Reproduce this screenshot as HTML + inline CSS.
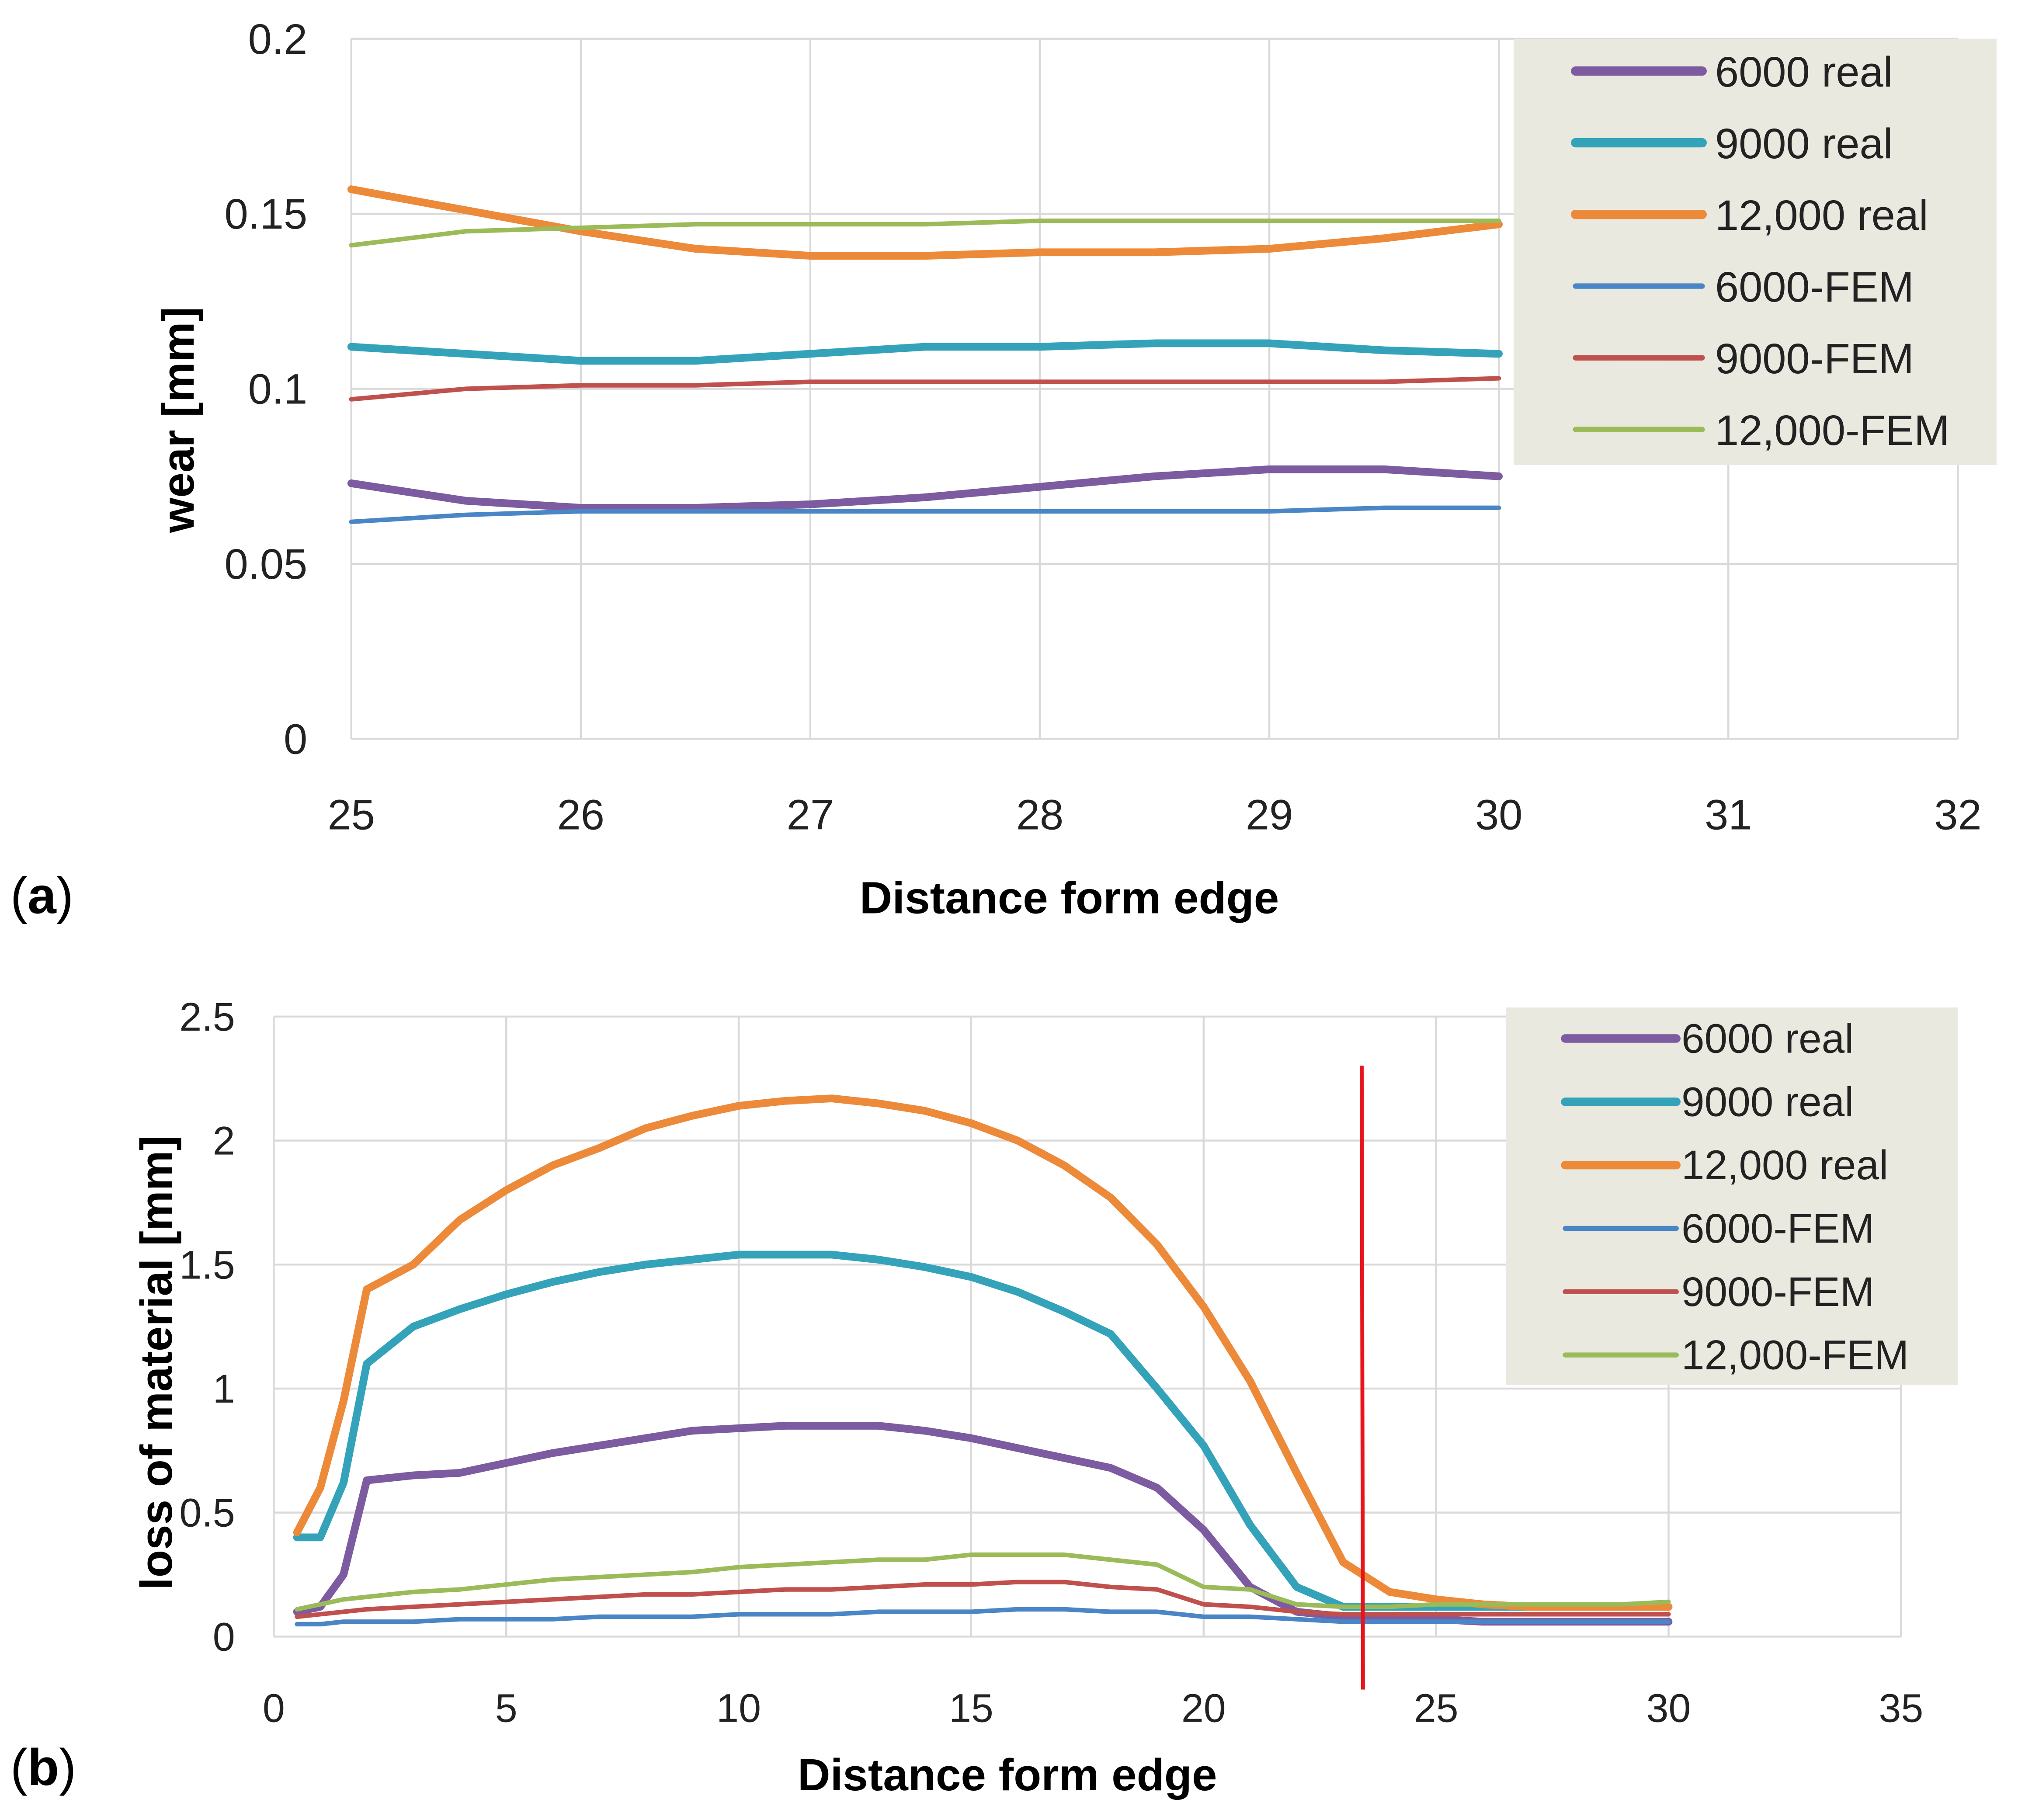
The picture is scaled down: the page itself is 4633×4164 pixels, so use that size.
<!DOCTYPE html>
<html><head><meta charset="utf-8"><style>
html,body{margin:0;padding:0;background:#fff}
svg{display:block}
text{font-family:"Liberation Sans",sans-serif}
</style></head><body>
<svg id="fig" width="4633" height="4164" viewBox="0 0 1568 1409" preserveAspectRatio="none" xmlns="http://www.w3.org/2000/svg">
<g id="ca"></g>
<g id="cb"></g>
<text x="8" y="707" font-family="Liberation Serif" font-size="40">(<tspan font-weight="bold">a</tspan>)</text>
<text x="8" y="1382" font-family="Liberation Serif" font-size="40">(<tspan font-weight="bold">b</tspan>)</text>
</svg>
<script>
const seriesNames=["6000 real","9000 real","12,000 real","6000-FEM","9000-FEM","12,000-FEM"];
const seriesColors=["#7d5ba0","#34a3ba","#ec8a3a","#4a86c6","#c0504d","#9bbb59"];
const seriesWidths=[6,6,6,3.5,3.5,3.5];
// chart a
const aX=[25,25.5,26,26.5,27,27.5,28,28.5,29,29.5,30];
const a6000real=[0.073,0.068,0.066,0.066,0.067,0.069,0.072,0.075,0.077,0.077,0.075];
const a9000real=[0.112,0.110,0.108,0.108,0.110,0.112,0.112,0.113,0.113,0.111,0.110];
const a12000real=[0.157,0.151,0.145,0.140,0.138,0.138,0.139,0.139,0.140,0.143,0.147];
const a6000fem=[0.062,0.064,0.065,0.065,0.065,0.065,0.065,0.065,0.065,0.066,0.066];
const a9000fem=[0.097,0.100,0.101,0.101,0.102,0.102,0.102,0.102,0.102,0.102,0.103];
const a12000fem=[0.141,0.145,0.146,0.147,0.147,0.147,0.148,0.148,0.148,0.148,0.148];
const aXTicks=[25,26,27,28,29,30,31,32];
const aYTicks=[0,0.05,0.1,0.15,0.2];
const aYLabels=["0","0.05","0.1","0.15","0.2"];
// chart b
const bX=[0.5,1,1.5,2,3,4,5,6,7,8,9,10,11,12,13,14,15,16,17,18,19,20,21,22,23,24,25,26,27,28,29,30];
const b6000real=[0.1,0.12,0.25,0.63,0.65,0.66,0.7,0.74,0.77,0.8,0.83,0.84,0.85,0.85,0.85,0.83,0.8,0.76,0.72,0.68,0.6,0.43,0.2,0.1,0.08,0.07,0.07,0.06,0.06,0.06,0.06,0.06];
const b9000real=[0.4,0.4,0.62,1.1,1.25,1.32,1.38,1.43,1.47,1.5,1.52,1.54,1.54,1.54,1.52,1.49,1.45,1.39,1.31,1.22,1.0,0.77,0.45,0.2,0.12,0.12,0.12,0.12,0.12,0.12,0.12,0.12];
const b12000real=[0.42,0.6,0.95,1.4,1.5,1.68,1.8,1.9,1.97,2.05,2.1,2.14,2.16,2.17,2.15,2.12,2.07,2.0,1.9,1.77,1.58,1.33,1.03,0.66,0.3,0.18,0.15,0.13,0.12,0.12,0.12,0.12];
const b6000fem=[0.05,0.05,0.06,0.06,0.06,0.07,0.07,0.07,0.08,0.08,0.08,0.09,0.09,0.09,0.1,0.1,0.1,0.11,0.11,0.1,0.1,0.08,0.08,0.07,0.06,0.06,0.06,0.06,0.06,0.06,0.06,0.06];
const b9000fem=[0.08,0.09,0.1,0.11,0.12,0.13,0.14,0.15,0.16,0.17,0.17,0.18,0.19,0.19,0.2,0.21,0.21,0.22,0.22,0.2,0.19,0.13,0.12,0.1,0.09,0.09,0.09,0.09,0.09,0.09,0.09,0.09];
const b12000fem=[0.11,0.13,0.15,0.16,0.18,0.19,0.21,0.23,0.24,0.25,0.26,0.28,0.29,0.3,0.31,0.31,0.33,0.33,0.33,0.31,0.29,0.2,0.19,0.13,0.12,0.12,0.13,0.13,0.13,0.13,0.13,0.14];
const bXTicks=[0,5,10,15,20,25,30,35];
const bYTicks=[0,0.5,1,1.5,2,2.5];
const bYLabels=["0","0.5","1","1.5","2","2.5"];
const bCutoff=[23.4];

const NS="http://www.w3.org/2000/svg";
function mk(parent,tag,attrs,txt){const e=document.createElementNS(NS,tag);for(const k in attrs)e.setAttribute(k,attrs[k]);if(txt!==undefined)e.textContent=txt;parent.appendChild(e);return e;}

function chart(g,cfg){
  const sx=v=>cfg.x0+(v-cfg.xmin)/(cfg.xmax-cfg.xmin)*(cfg.x1-cfg.x0);
  const sy=v=>cfg.y0-(v-cfg.ymin)/(cfg.ymax-cfg.ymin)*(cfg.y0-cfg.y1);
  cfg.xt.forEach(t=>{
    const l=mk(g,'line',{x1:sx(t),x2:sx(t),y1:cfg.y1,y2:cfg.y0,stroke:'#d9d9d9','stroke-width':1.5});
    
    
    const tx=mk(g,'text',{x:sx(t),y:cfg.xly,'text-anchor':'middle','font-size':cfg.fs,fill:'#222'},String(t));
    
    
  });
  cfg.yt.forEach((t,i)=>{
    const l=mk(g,'line',{x1:cfg.x0,x2:cfg.x1,y1:sy(t),y2:sy(t),stroke:'#d9d9d9','stroke-width':1.5});
    
    
    const tx=mk(g,'text',{x:cfg.ylx,y:sy(t)+cfg.fs*0.35,'text-anchor':'end','font-size':cfg.fs,fill:'#222'},cfg.yl[i]);
    
    
  });
  cfg.series.forEach((s,i)=>{
    const p=mk(g,'polyline',{points:cfg.xs.map((x,j)=>sx(x)+','+sy(s[j])).join(' '),fill:'none',stroke:seriesColors[i],'stroke-width':seriesWidths[i],'stroke-linejoin':'round','stroke-linecap':'round'});
    
    
  });
  return {sx,sy};
}

const ga=document.getElementById('ca');
chart(ga,{x0:272,x1:1516,y0:572,y1:30,xmin:25,xmax:32,ymin:0,ymax:0.2,xt:aXTicks,yt:aYTicks,yl:aYLabels,fs:33,xly:642,ylx:238,xs:aX,series:[a6000real,a9000real,a12000real,a6000fem,a9000fem,a12000fem]});
const ta=mk(ga,'text',{x:828,y:707,'text-anchor':'middle','font-size':35,'font-weight':'bold'},'Distance form edge');

const ya=mk(ga,'text',{x:0,y:0,transform:'translate(150,325) rotate(-90)','text-anchor':'middle','font-size':35,'font-weight':'bold'},'wear [mm]');

const la=mk(ga,'rect',{x:1172,y:30,width:374,height:330,fill:'#eae9df'});

seriesNames.forEach((n,i)=>{
  const y=55+i*55.5;
  const l=mk(ga,'line',{x1:1220,x2:1318,y1:y,y2:y,stroke:seriesColors[i],'stroke-width':seriesWidths[i]*1.2,'stroke-linecap':'round'});
  
  const t=mk(ga,'text',{x:1328,y:y+12,'font-size':33,fill:'#222'},n);
  
});

const gb=document.getElementById('cb');
const sb=chart(gb,{x0:212,x1:1472,y0:1267,y1:787,xmin:0,xmax:35,ymin:0,ymax:2.5,xt:bXTicks,yt:bYTicks,yl:bYLabels,fs:31,xly:1333,ylx:182,xs:bX,series:[b6000real,b9000real,b12000real,b6000fem,b9000fem,b12000fem]});
const tb=mk(gb,'text',{x:780,y:1386,'text-anchor':'middle','font-size':35,'font-weight':'bold'},'Distance form edge');

const yb=mk(gb,'text',{x:0,y:0,transform:'translate(133,1055) rotate(-90)','text-anchor':'middle','font-size':35,'font-weight':'bold'},'loss of material [mm]');

const rl=mk(gb,'line',{x1:sb.sx(bCutoff[0]),x2:sb.sx(bCutoff[0])+1,y1:825,y2:1308,stroke:'#e8141b','stroke-width':3});

const lb=mk(gb,'rect',{x:1166,y:780,width:350,height:292,fill:'#eae9df'});

seriesNames.forEach((n,i)=>{
  const y=804+i*49;
  const l=mk(gb,'line',{x1:1212,x2:1298,y1:y,y2:y,stroke:seriesColors[i],'stroke-width':seriesWidths[i]*1.1,'stroke-linecap':'round'});
  
  const t=mk(gb,'text',{x:1302,y:y+11,'font-size':32,fill:'#222'},n);
  
});
</script>
</body></html>
